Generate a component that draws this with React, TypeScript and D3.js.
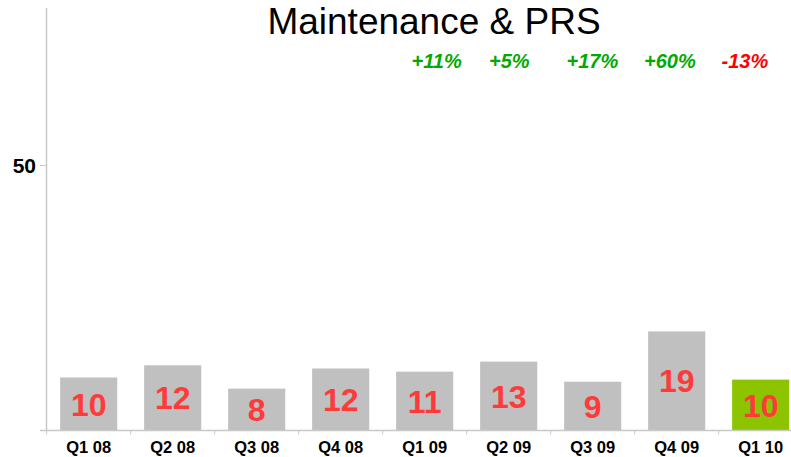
import React from "react";
import * as d3 from "d3";

const categories = ["Q1 08", "Q2 08", "Q3 08", "Q4 08", "Q1 09", "Q2 09", "Q3 09", "Q4 09", "Q1 10"];
const values = [10.0, 12.3, 7.9, 11.7, 11.1, 13.0, 9.2, 18.7, 9.6];
const valueLabels = ["10", "12", "8", "12", "11", "13", "9", "19", "10"];
const highlight = [false, false, false, false, false, false, false, false, true];
const changeLabels = ["+11%", "+5%", "+17%", "+60%", "-13%"];
const changePositive = [true, true, true, true, false];
const yTicks = [50];

const W = 791;
const H = 457;
const FONT = "'Liberation Sans', Arial, Helvetica, sans-serif";

export default function App() {
  const x = d3
    .scaleBand<string>()
    .domain(categories)
    .range([46.7, 46.7 + 9 * 84])
    .paddingInner(0.32)
    .paddingOuter(0.16);
  const y = d3.scaleLinear().domain([0, 80]).range([430.5, 6.5]);
  const pct = d3.scalePoint<string>().domain(changeLabels).range([411.5, 721.5]);

  const base = y(0);
  return (
    <svg width={W} height={H} style={{ position: "absolute", left: 0, top: 0 }} fontFamily={FONT}>
      <rect width={W} height={H} fill="#fff" />
      <text x={434} y={33.5} textAnchor="middle" fontSize={37} fill="#000">
        Maintenance &amp; PRS
      </text>
      {changeLabels.map((t, i) => (
        <text
          key={t}
          x={pct(t)}
          y={67.5}
          fontSize={20}
          fontWeight="bold"
          fontStyle="italic"
          fill={changePositive[i] ? "#00aa00" : "#ff0000"}
        >
          {t}
        </text>
      ))}
      {categories.map((c, i) => {
        const bx = x(c)!;
        const top = y(values[i]);
        return (
          <g key={c}>
            <rect
              x={bx}
              y={top}
              width={x.bandwidth()}
              height={base - top}
              fill={highlight[i] ? "#8cc400" : "#c0c0c0"}
            />
            <text
              x={bx + x.bandwidth() / 2}
              y={(top + base) / 2}
              dy="0.36em"
              textAnchor="middle"
              fontSize={32}
              fontWeight="bold"
              fill="#ff3a3a"
            >
              {valueLabels[i]}
            </text>
            <text
              x={bx + x.bandwidth() / 2}
              y={453}
              textAnchor="middle"
              fontSize={16.5}
              fontWeight="bold"
              fill="#000"
            >
              {c}
            </text>
          </g>
        );
      })}
      {/* axes */}
      <line x1={46.5} x2={46.5} y1={8} y2={base} stroke="#c8c8c8" strokeWidth={1.5} />
      <line x1={40} x2={791} y1={base} y2={base} stroke="#c8c8c8" strokeWidth={1.5} />
      {categories.map((c) => {
        const tx = x(c)! - (x.step() * x.paddingInner()) / 2;
        return <line key={"t" + c} x1={tx} x2={tx} y1={base} y2={base + 4} stroke="#c8c8c8" strokeWidth={1} />;
      })}
      {yTicks.map((t) => (
        <g key={t}>
          <line x1={40} x2={46.5} y1={y(t)} y2={y(t)} stroke="#c8c8c8" strokeWidth={1} />
          <text x={36} y={y(t)} dy="0.36em" textAnchor="end" fontSize={21} fontWeight="bold" fill="#000">
            {t}
          </text>
        </g>
      ))}
    </svg>
  );
}
